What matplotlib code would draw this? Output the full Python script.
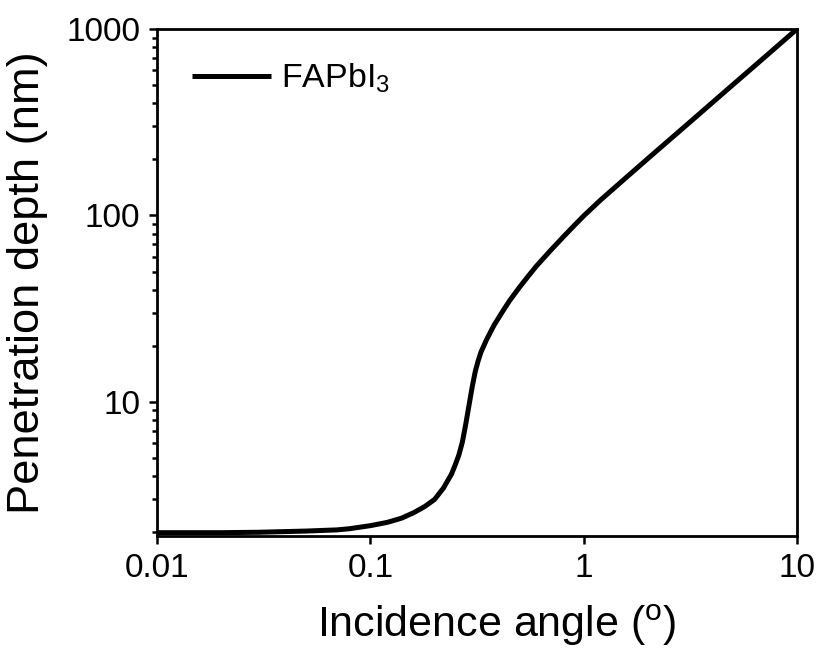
import matplotlib
matplotlib.use("Agg")
import matplotlib.pyplot as plt
from matplotlib.ticker import LogLocator, FixedLocator, NullFormatter, FixedFormatter

plt.rcParams['font.family'] = ['Liberation Sans', 'DejaVu Sans']
plt.rcParams['mathtext.fontset'] = 'custom'
plt.rcParams['mathtext.rm'] = 'Liberation Sans'
plt.rcParams['mathtext.it'] = 'Liberation Sans:italic'

# Data
angle = [0.01, 0.02, 0.03, 0.05, 0.07, 0.08, 0.1, 0.12, 0.14, 0.16, 0.18, 0.2,
         0.22, 0.24, 0.25, 0.26, 0.27, 0.28, 0.29, 0.30, 0.31, 0.32, 0.33, 0.35,
         0.38, 0.42, 0.45, 0.5, 0.55, 0.6, 0.7, 0.8, 0.9, 1.0, 1.2, 1.5, 2.0, 3.0,
         5.0, 7.0, 10.0]
depth = [1.99, 1.99, 2.0, 2.03, 2.06, 2.09, 2.17, 2.26, 2.38, 2.55, 2.75, 3.0,
         3.45, 4.1, 4.6, 5.2, 6.1, 7.6, 9.6, 12.0, 14.5, 16.6, 18.5, 21.5,
         25.8, 31.0, 35.0, 41.2, 47.3, 53.5, 65.0, 76.5, 88.0, 99.5, 121.0,
         151.5, 202.0, 302.0, 502.0, 701.0, 1000.0]
series_label = r'FAPbI$_3$'
xticks = [0.01, 0.1, 1, 10]
xticklabels = ['0.01', '0.1', '1', '10']
yticks = [10, 100, 1000]
yticklabels = ['10', '100', '1000']

fig = plt.figure(figsize=(8.2, 6.5), dpi=100)
ax = fig.add_axes([0.1915, 0.1754, 0.972 - 0.1915, 0.9554 - 0.1754])

ax.plot(angle, depth, color='black', lw=3.6, label=series_label, solid_capstyle='butt')
ax.set_xscale('log')
ax.set_yscale('log')
ax.set_xlim(0.01, 10)
ax.set_ylim(1.91, 1000)

ax.xaxis.set_major_locator(FixedLocator(xticks))
ax.xaxis.set_major_formatter(FixedFormatter(xticklabels))
ax.xaxis.set_minor_locator(FixedLocator([]))
ax.yaxis.set_major_locator(FixedLocator(yticks))
ax.yaxis.set_major_formatter(FixedFormatter(yticklabels))
ax.yaxis.set_minor_locator(LogLocator(base=10, subs=range(2, 10), numticks=20))
ax.yaxis.set_minor_formatter(NullFormatter())

for s in ax.spines.values():
    s.set_linewidth(2.0)
ax.tick_params(which='major', direction='out', length=6, width=1.8, labelsize=24, pad=6,
               top=False, right=False)
ax.tick_params(which='minor', direction='out', length=3.5, width=1.8, top=False, right=False)

ax.set_xlabel(r'Incidence angle ($^\mathrm{o}$)', fontsize=31, labelpad=14)
ax.xaxis.label.set_x(0.53)
ax.set_ylabel('Penetration depth (nm)', fontsize=32.6, labelpad=13)

leg = ax.legend(loc='upper left', frameon=False, fontsize=24.5, handlelength=2.3,
                handletextpad=0.3, borderaxespad=0.0, bbox_to_anchor=(0.034, 0.9625))

fig.savefig('out.png', dpi=100)
